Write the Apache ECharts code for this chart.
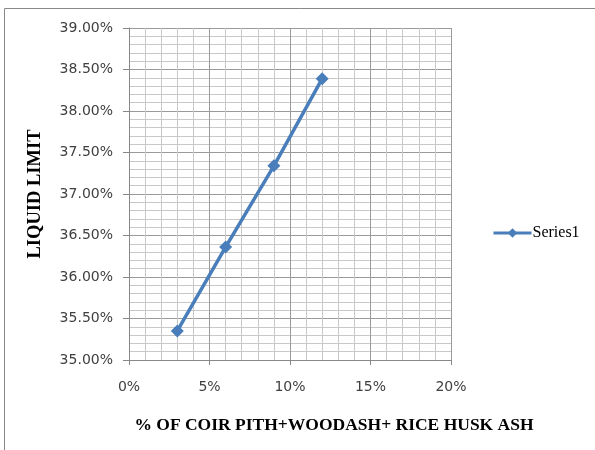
<!DOCTYPE html>
<html>
<head>
<meta charset="utf-8">
<script src="https://cdn.jsdelivr.net/npm/echarts@6/dist/echarts.min.js"></script>
<style>
  html, body { margin: 0; padding: 0; background: #fff; }
  #chart { width: 595px; height: 450px; }
</style>
</head>
<body>
<div id="chart"></div>
<script>
// Additive content (%) and measured liquid limit (%)
const additivePct = [3, 6, 9, 12];
const liquidLimit = [35.35, 36.36, 37.34, 38.39];
const seriesName = 'Series1';
const xTitle = '% OF COIR PITH+WOODASH+ RICE HUSK ASH';
const yTitle = 'LIQUID LIMIT';

const chart = echarts.init(document.getElementById('chart'), null, { renderer: 'canvas' });

const majorGrid = { show: true, lineStyle: { color: '#9a9a9a', width: 1 } };
const minorGrid = { show: true, lineStyle: { color: '#c8c8c8', width: 1 } };
const labelFont = { fontFamily: 'DejaVu Sans', fontSize: 14, color: '#404040' };
const titleFont = { fontFamily: 'Liberation Serif', fontWeight: 'bold', fontSize: 17.5, color: '#000' };

chart.setOption({
  animation: false,
  backgroundColor: '#fff',
  graphic: [{
    type: 'rect',
    shape: { x: 4.5, y: 8.5, width: 700, height: 600 },
    style: { fill: 'none', stroke: '#888', lineWidth: 1 },
    silent: true,
    z: -10
  }],
  grid: { left: 129, right: 144, top: 28, bottom: 90 },
  legend: {
    left: 492, top: 225, padding: 0,
    itemWidth: 38, itemHeight: 12, itemGap: 4,
    lineStyle: { width: 3 },
    textStyle: { fontFamily: 'Liberation Serif', fontSize: 16, color: '#000', padding: [0, 0, 0, -4] },
    data: [seriesName]
  },
  xAxis: {
    type: 'value', min: 0, max: 20, interval: 5,
    name: xTitle, nameLocation: 'middle', nameGap: 56,
    nameTextStyle: Object.assign({ padding: [0, 0, 0, 88] }, titleFont),
    axisLine: { show: true, lineStyle: { color: '#888' } },
    axisTick: { show: true, inside: false, length: 5, lineStyle: { color: '#888' } },
    axisLabel: Object.assign({ margin: 20, formatter: v => v + '%' }, labelFont),
    splitLine: majorGrid,
    minorTick: { show: false, splitNumber: 5 },
    minorSplitLine: minorGrid
  },
  yAxis: {
    type: 'value', min: 35, max: 39, interval: 0.5,
    name: yTitle, nameLocation: 'middle', nameGap: 84, nameRotate: 90,
    nameTextStyle: Object.assign({}, titleFont, { fontSize: 18.5 }),
    axisLine: { show: true, lineStyle: { color: '#888' } },
    axisTick: { show: true, inside: false, length: 6, lineStyle: { color: '#888' } },
    axisLabel: Object.assign({ margin: 16, formatter: v => v.toFixed(2) + '%' }, labelFont),
    splitLine: majorGrid,
    minorTick: { show: false, splitNumber: 5 },
    minorSplitLine: minorGrid
  },
  series: [{
    name: seriesName,
    type: 'line',
    data: additivePct.map((x, i) => [x, liquidLimit[i]]),
    symbol: 'diamond',
    symbolSize: 13,
    itemStyle: { color: '#4a7ebb' },
    lineStyle: { color: '#4a7ebb', width: 3.5 }
  }]
});
</script>
</body>
</html>
